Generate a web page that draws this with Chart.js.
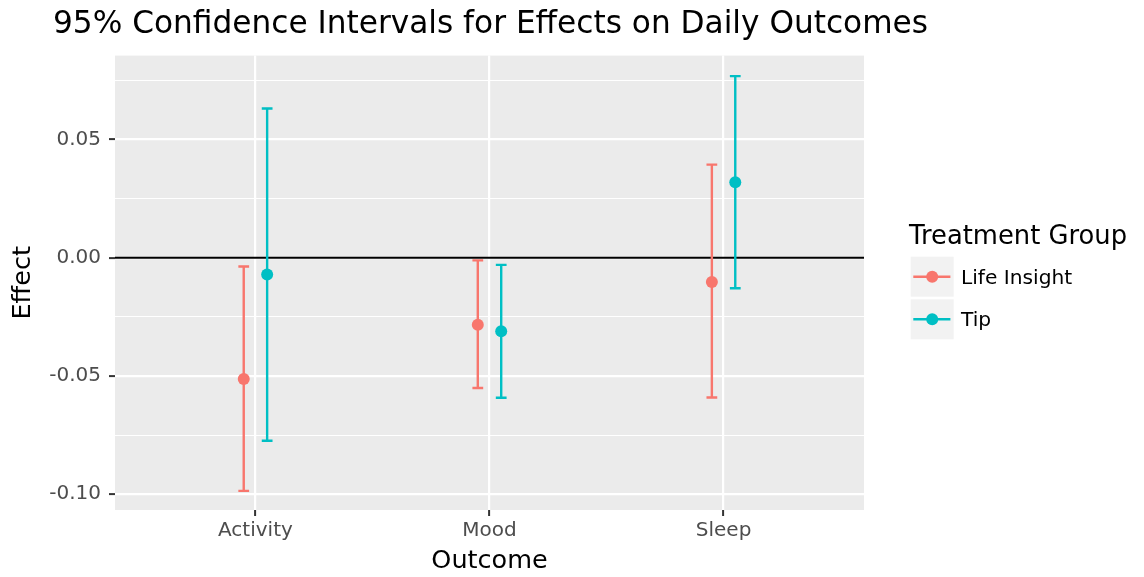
<!DOCTYPE html>
<html>
<head>
<meta charset="utf-8">
<title>95% Confidence Intervals for Effects on Daily Outcomes</title>
<script src="https://cdn.jsdelivr.net/npm/chart.js@4"></script>
<style>
  html, body { margin: 0; padding: 0; background: #ffffff; }
  canvas { display: block; }
</style>
</head>
<body>
<canvas id="chart" width="1144" height="577" style="width:1144px;height:577px"></canvas>
<script>
// ---- data ----
const outcomes = ['Activity', 'Mood', 'Sleep'];
const groups = ['Life Insight', 'Tip'];

const lifeInsightEst  = [-0.0513, -0.0283, -0.0103];
const lifeInsightLow  = [-0.0986, -0.0551, -0.0591];
const lifeInsightHigh = [-0.0037, -0.0011,  0.0394];

const tipEst  = [-0.0071, -0.0311,  0.0319];
const tipLow  = [-0.0774, -0.0592, -0.0129];
const tipHigh = [ 0.0631, -0.0030,  0.0768];

const yMajorTicks = [-0.10, -0.05, 0.00, 0.05];
const yMinorTicks = [-0.075, -0.025, 0.025, 0.075];
const referenceLine = 0;

// ---- styling ----
const FONT = 'DejaVu Sans';
const COLORS = ['#F8766D', '#00BFC4'];
const DODGE = [-0.05, 0.05];   // horizontal offset of each group within a category
const CAP_HALF = 0.023;        // half width of the error bar caps, in category units
const POINT_R = 6;
const BAR_W = 2.4;

const series = [
  { label: groups[0], est: lifeInsightEst, low: lifeInsightLow, high: lifeInsightHigh },
  { label: groups[1], est: tipEst, low: tipLow, high: tipHigh }
];

const isMajor = v => yMajorTicks.some(m => Math.abs(m - v) < 1e-9);

const datasets = series.map((s, i) => ({
  label: s.label,
  data: s.est.map((v, j) => ({ x: j + 1 + DODGE[i], y: v, low: s.low[j], high: s.high[j] })),
  backgroundColor: COLORS[i],
  borderColor: COLORS[i],
  borderWidth: 0,
  pointRadius: POINT_R,
  pointHoverRadius: POINT_R,
  showLine: false
}));

// grey panel behind the plot
const panelBackground = {
  id: 'panelBackground',
  beforeDraw(chart) {
    const { ctx, chartArea: a } = chart;
    ctx.save();
    ctx.fillStyle = '#EBEBEB';
    ctx.fillRect(a.left, a.top, a.right - a.left, a.bottom - a.top);
    ctx.restore();
  }
};

// horizontal reference line and the confidence interval bars
const intervals = {
  id: 'intervals',
  beforeDatasetsDraw(chart) {
    const { ctx, chartArea: a } = chart;
    const xs = chart.scales.x, ys = chart.scales.y;
    ctx.save();
    const y0 = ys.getPixelForValue(referenceLine);
    ctx.strokeStyle = '#000000';
    ctx.lineWidth = 2.2;
    ctx.beginPath();
    ctx.moveTo(a.left, y0);
    ctx.lineTo(a.right, y0);
    ctx.stroke();

    ctx.lineWidth = BAR_W;
    ctx.lineCap = 'butt';
    chart.data.datasets.forEach((ds, i) => {
      ctx.strokeStyle = COLORS[i];
      ds.data.forEach(p => {
        const px = xs.getPixelForValue(p.x);
        const half = xs.getPixelForValue(p.x + CAP_HALF) - px;
        const yl = ys.getPixelForValue(p.low);
        const yh = ys.getPixelForValue(p.high);
        ctx.beginPath();
        ctx.moveTo(px, yl); ctx.lineTo(px, yh);
        ctx.moveTo(px - half, yl); ctx.lineTo(px + half, yl);
        ctx.moveTo(px - half, yh); ctx.lineTo(px + half, yh);
        ctx.stroke();
      });
    });
    ctx.restore();
  }
};

// chart title and the group legend
const annotations = {
  id: 'annotations',
  afterDraw(chart) {
    const { ctx } = chart;
    ctx.save();
    ctx.fillStyle = '#000000';
    ctx.textBaseline = 'alphabetic';
    ctx.textAlign = 'left';
    ctx.font = `31.2px "${FONT}"`;
    ctx.fillText('95% Confidence Intervals for Effects on Daily Outcomes', 53, 33);

    ctx.font = `25.8px "${FONT}"`;
    ctx.fillText('Treatment Group', 909, 244);

    const keyX = 910.7, keyW = 43, keyH = 40, keyTop = 256.7, keyStep = 42.6;
    chart.data.datasets.forEach((ds, i) => {
      const top = keyTop + i * keyStep;
      const cy = top + keyH / 2;
      ctx.fillStyle = '#F2F2F2';
      ctx.fillRect(keyX, top, keyW, keyH);
      ctx.strokeStyle = COLORS[i];
      ctx.lineWidth = BAR_W;
      ctx.beginPath();
      ctx.moveTo(keyX + 2.6, cy);
      ctx.lineTo(keyX + keyW - 3.3, cy);
      ctx.stroke();
      ctx.fillStyle = COLORS[i];
      ctx.beginPath();
      ctx.arc(keyX + keyW / 2, cy, POINT_R, 0, Math.PI * 2);
      ctx.fill();
      ctx.fillStyle = '#000000';
      ctx.font = `20.2px "${FONT}"`;
      ctx.fillText(ds.label, 961, cy + 7);
    });
    ctx.restore();
  }
};

new Chart(document.getElementById('chart'), {
  type: 'scatter',
  data: { datasets },
  options: {
    responsive: false,
    animation: false,
    devicePixelRatio: 1,
    events: [],
    layout: { padding: { top: 55.6, right: 280, bottom: 0, left: 0 } },
    plugins: {
      legend: { display: false },
      tooltip: { enabled: false },
      title: { display: false }
    },
    scales: {
      x: {
        type: 'linear',
        min: 0.4,
        max: 3.6,
        afterBuildTicks: s => { s.ticks = outcomes.map((_, i) => ({ value: i + 1 })); },
        afterFit: s => { s.height = 67; },
        border: { display: false },
        grid: { color: '#FFFFFF', lineWidth: 2.2, tickColor: '#333333', tickLength: 6, tickWidth: 2 },
        ticks: {
          callback: v => outcomes[Math.round(v) - 1],
          color: '#4D4D4D',
          font: { family: FONT, size: 20 },
          padding: 3,
          autoSkip: false,
          maxRotation: 0
        },
        title: {
          display: true,
          text: 'Outcome',
          color: '#000000',
          font: { family: FONT, size: 25.5 },
          padding: { top: 0, bottom: 0 }
        }
      },
      y: {
        type: 'linear',
        min: -0.1067,
        max: 0.0855,
        afterBuildTicks: s => {
          s.ticks = [...yMajorTicks, ...yMinorTicks].sort((a, b) => a - b).map(v => ({ value: v }));
        },
        afterFit: s => { s.width = 115; },
        border: { display: false },
        grid: {
          color: '#FFFFFF',
          lineWidth: c => (c.tick && isMajor(c.tick.value)) ? 2.2 : 1.1,
          tickColor: c => (c.tick && isMajor(c.tick.value)) ? '#333333' : 'rgba(0,0,0,0)',
          tickLength: 6,
          tickWidth: 2
        },
        ticks: {
          callback: v => isMajor(v) ? v.toFixed(2) : '',
          color: '#4D4D4D',
          font: { family: FONT, size: 20 },
          padding: 8
        },
        title: {
          display: true,
          text: 'Effect',
          color: '#000000',
          font: { family: FONT, size: 25.5 },
          padding: { top: 8, bottom: 0 }
        }
      }
    }
  },
  plugins: [panelBackground, intervals, annotations]
});
</script>
</body>
</html>
